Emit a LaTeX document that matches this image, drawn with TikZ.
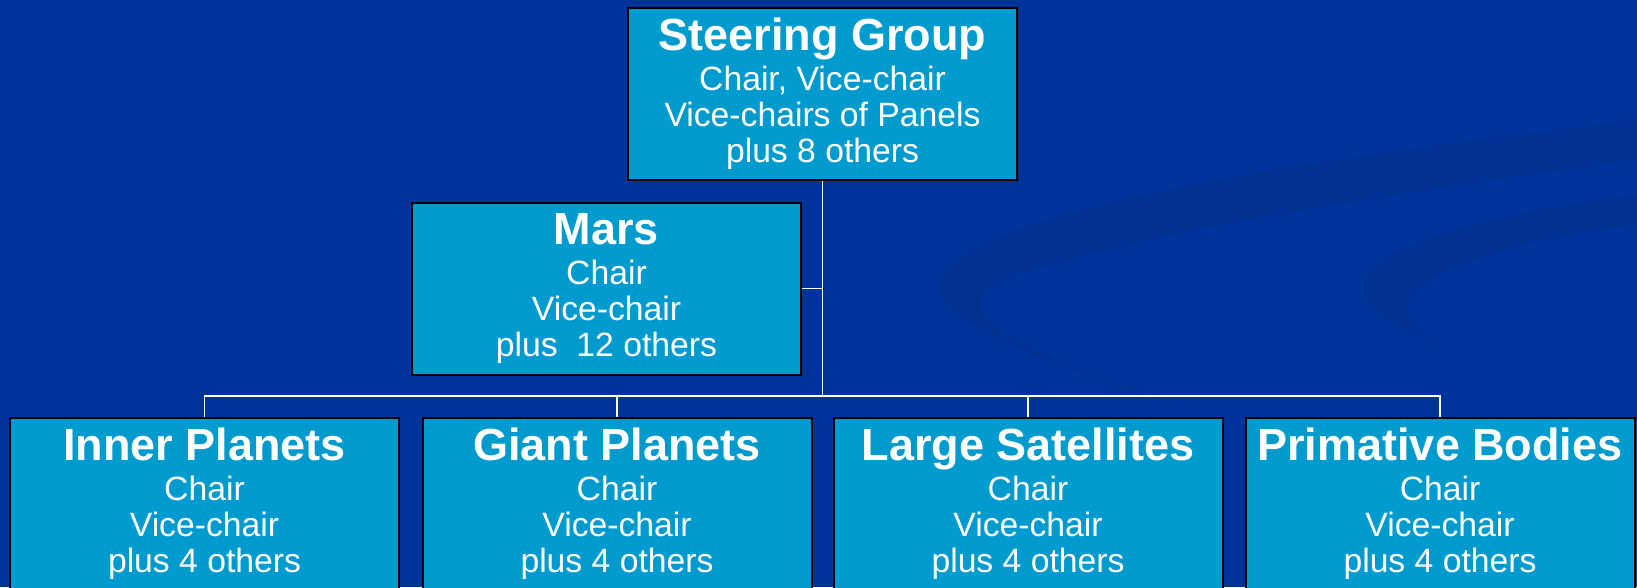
\documentclass[tikz,border=0pt]{standalone}
\usepackage{fontspec}
\setmainfont{Liberation Sans}
\definecolor{bgblue}{RGB}{0,51,153}
\definecolor{swoosh}{RGB}{0,48,146}
\definecolor{boxblue}{RGB}{0,155,206}
\tikzset{
  orgbox/.style={draw=black, line width=2pt, fill=boxblue, text=white,
    minimum width=389pt, minimum height=172pt, inner sep=0pt, align=center,
    font=\fontsize{33.7}{36}\selectfont},
  link/.style={draw=white, line width=1.8pt},
}
\newcommand{\boxtitle}[1]{{\fontsize{45}{45}\selectfont\bfseries #1}}
\begin{document}
\begin{tikzpicture}[x=1pt, y=-1pt]
\useasboundingbox (0,0) rectangle (1637,587);
\clip (0,0) rectangle (1637,587);
\fill[bgblue] (0,0) rectangle (1637,587);
% background swooshes
\fill[swoosh] (1637,120) .. controls (1300,160) and (940,215) .. (940,287)
  .. controls (940,330) and (1080,372) .. (1240,430)
  .. controls (1100,378) and (979,335) .. (979,303)
  .. controls (979,262) and (1300,205) .. (1637,160) -- cycle;
\fill[swoosh] (1637,195) .. controls (1480,215) and (1362,250) .. (1362,287)
  .. controls (1362,310) and (1400,330) .. (1440,345)
  .. controls (1415,330) and (1408,318) .. (1408,307)
  .. controls (1408,278) and (1500,240) .. (1637,225) -- cycle;
% boxes
\node[orgbox] (sg) at (822.5,94) {\boxtitle{Steering Group}\\[4pt]Chair, Vice-chair\\Vice-chairs of Panels\\plus 8 others};
\node[orgbox] (mars) at (606.5,288.5) {\boxtitle{Mars}\\[4pt]Chair\\Vice-chair\\plus\ \ 12 others};
\node[orgbox] (inner) at (204.5,504) {\boxtitle{Inner Planets}\\[4pt]Chair\\Vice-chair\\plus 4 others};
\node[orgbox] (giant) at (617,504) {\boxtitle{Giant Planets}\\[4pt]Chair\\Vice-chair\\plus 4 others};
\node[orgbox] (large) at (1028,504) {\boxtitle{Large Satellites}\\[4pt]Chair\\Vice-chair\\plus 4 others};
\node[orgbox] (prim) at (1440,504) {\boxtitle{Primative Bodies}\\[4pt]Chair\\Vice-chair\\plus 4 others};
% connectors
\coordinate (j) at (822.5,396);
\draw[link] (sg.south) -- (j);
\draw[link] (mars.east) -- (mars.east -| j);
\draw[link] (inner.north) |- (j);
\draw[link] (giant.north) |- (j);
\draw[link] (large.north) |- (j);
\draw[link] (prim.north) |- (j);
\end{tikzpicture}
\end{document}
